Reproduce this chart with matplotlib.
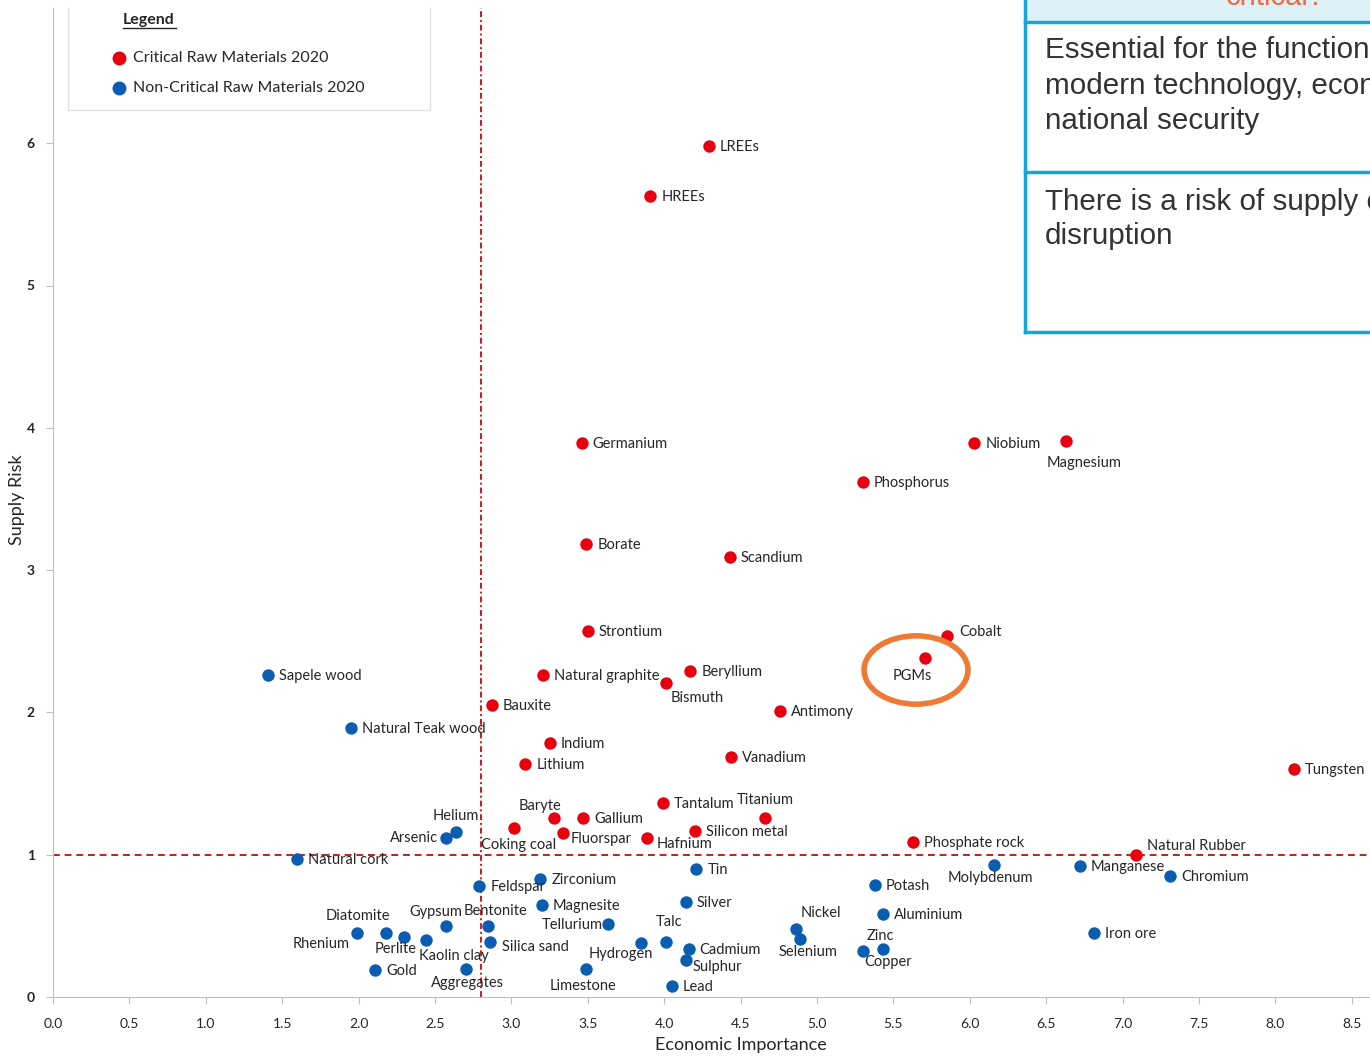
import matplotlib
matplotlib.use('Agg')
import matplotlib.pyplot as plt
from matplotlib.patches import Ellipse, Rectangle
from matplotlib.lines import Line2D

# ---------------- data ----------------
crit_names = ["LREEs", "HREEs", "Germanium", "Niobium", "Magnesium", "Phosphorus",
              "Borate", "Scandium", "Strontium", "Cobalt", "PGMs", "Natural graphite",
              "Beryllium", "Bismuth", "Bauxite", "Antimony", "Indium", "Lithium",
              "Vanadium", "Tungsten", "Tantalum", "Titanium", "Baryte", "Gallium",
              "Coking coal", "Fluorspar", "Silicon metal", "Hafnium", "Phosphate rock",
              "Natural Rubber"]
crit_ei = [4.29, 3.91, 3.46, 6.03, 6.63, 5.30, 3.49, 4.43, 3.50, 5.85, 5.71, 3.21,
           4.17, 4.01, 2.87, 4.76, 3.25, 3.09, 4.44, 8.12, 3.99, 4.66, 3.28, 3.47,
           3.02, 3.34, 4.20, 3.89, 5.63, 7.09]
crit_sr = [5.98, 5.63, 3.89, 3.89, 3.91, 3.62, 3.18, 3.09, 2.57, 2.54, 2.38, 2.26,
           2.29, 2.21, 2.05, 2.01, 1.785, 1.64, 1.69, 1.60, 1.36, 1.26, 1.26, 1.26,
           1.19, 1.15, 1.17, 1.12, 1.09, 1.00]

noncrit_names = ["Sapele wood", "Natural Teak wood", "Helium", "Arsenic", "Natural cork",
                 "Feldspar", "Zirconium", "Tin", "Molybdenum", "Manganese", "Chromium",
                 "Potash", "Magnesite", "Silver", "Aluminium", "Gypsum", "Bentonite",
                 "Tellurium", "Diatomite", "Rhenium", "Perlite", "Kaolin clay",
                 "Silica sand", "Hydrogen", "Talc", "Cadmium", "Sulphur", "Nickel",
                 "Selenium", "Zinc", "Copper", "Iron ore", "Gold", "Aggregates",
                 "Limestone", "Lead"]
noncrit_ei = [1.41, 1.95, 2.64, 2.57, 1.60, 2.79, 3.19, 4.21, 6.16, 6.72, 7.31,
              5.38, 3.20, 4.14, 5.43, 2.57, 2.85, 3.63, 2.18, 1.99, 2.30, 2.44,
              2.86, 3.85, 4.01, 4.16, 4.14, 4.86, 4.89, 5.43, 5.30, 6.81, 2.11,
              2.70, 3.49, 4.05]
noncrit_sr = [2.26, 1.89, 1.16, 1.12, 0.97, 0.78, 0.83, 0.90, 0.93, 0.92, 0.85,
              0.79, 0.65, 0.67, 0.58, 0.50, 0.50, 0.51, 0.45, 0.45, 0.42, 0.40,
              0.39, 0.38, 0.39, 0.34, 0.26, 0.48, 0.41, 0.34, 0.32, 0.45, 0.19,
              0.20, 0.20, 0.08]

ei_threshold = 2.8
sr_threshold = 1.0
x_ticks = [0.0, 0.5, 1.0, 1.5, 2.0, 2.5, 3.0, 3.5, 4.0, 4.5, 5.0, 5.5, 6.0, 6.5, 7.0, 7.5, 8.0, 8.5]
y_ticks = [0, 1, 2, 3, 4, 5, 6]

legend_labels = ["Critical Raw Materials 2020", "Non-Critical Raw Materials 2020"]
box_head = "critical?"
box_row1 = ["Essential for the functioning of", "modern technology, economy and", "national security"]
box_row2 = ["There is a risk of supply chain", "disruption"]

# ---------------- layout of labels (pixel offsets from dot, y down) ----------------
R = 'left'
label_layout = {
    "Magnesium": (18, 22, 'center'), "Cobalt": (12, -4, R), "PGMs": (-13, 18, 'center'),
    "Bismuth": (31, 15, 'center'), "Titanium": (0, -18, 'center'), "Baryte": (-14, -12, 'center'),
    "Coking coal": (4, 17, 'center'), "Fluorspar": (7, 6, R), "Hafnium": (9, 6, R),
    "Natural Rubber": (11, -9, R),
    "Helium": (-1, -16, 'center'), "Arsenic": (-8, 0, 'right'), "Molybdenum": (-4, 13, 'center'),
    "Gypsum": (-10, -14, 'center'), "Bentonite": (7, -15, 'center'), "Tellurium": (-5, 1, 'right'),
    "Diatomite": (-28, -17, 'center'), "Rhenium": (-7, 11, 'right'), "Perlite": (-9, 12, 'center'),
    "Kaolin clay": (28, 16, 'center'), "Silica sand": (12, 5, R), "Hydrogen": (-20, 11, 'center'),
    "Talc": (3, -20, 'center'), "Sulphur": (7, 7, R), "Nickel": (25, -16, 'center'),
    "Selenium": (8, 13, 'center'), "Zinc": (-2, -13, 'center'), "Copper": (25, 11, 'center'),
    "Aggregates": (2, 14, 'center'), "Limestone": (-3, 17, 'center'),
}

W, H = 1370, 1056
plt.rcParams['font.family'] = ['Lato', 'DejaVu Sans']
fig = plt.figure(figsize=(W / 100, H / 100), dpi=100)
fig.patch.set_facecolor('white')

def fx(px):
    return px / W

def fy(py):
    return 1 - py / H

ax = fig.add_axes([fx(53), 59 / H, (W - 53) / W, 989 / H])
ax.set_xlim(0, (W - 53) / 152.8)
ax.set_ylim(0, 989 / 142.3)

RED = '#E8000E'
BLUE = '#0A5DB0'
TXT = '#262626'

ax.axvline(ei_threshold, color='#D01818', lw=1.4, ls=(0, (3, 1.5, 1, 1.5)), zorder=1)
ax.axhline(sr_threshold, color='#D01818', lw=1.4, ls=(0, (3.5, 2.5)), zorder=1)

ax.scatter(crit_ei, crit_sr, s=80, color=RED, zorder=3, linewidths=0)
ax.scatter(noncrit_ei, noncrit_sr, s=80, color=BLUE, zorder=3, linewidths=0)

for names, xs, ys in [(crit_names, crit_ei, crit_sr), (noncrit_names, noncrit_ei, noncrit_sr)]:
    for n, x, y in zip(names, xs, ys):
        dx, dy, ha = label_layout.get(n, (11, 1, R))
        ax.annotate(n, (x, y), xytext=(dx, -dy), textcoords='offset pixels',
                    ha=ha, va='center', fontsize=10.5, color=TXT, zorder=4,
                    annotation_clip=False)

# highlight ellipse around PGMs
pgm_i = crit_names.index("PGMs")
ax.add_patch(Ellipse((crit_ei[pgm_i] - 0.062, crit_sr[pgm_i] - 0.082), 0.68, 0.48,
                     fill=False, edgecolor='#EE7A35', lw=4, zorder=5))

# axes styling
for s in ['top', 'right']:
    ax.spines[s].set_visible(False)
ax.spines['left'].set_color('#BFBFBF')
ax.spines['bottom'].set_color('#BFBFBF')
ax.set_xticks(x_ticks)
ax.set_xticklabels([f"{t:.1f}" for t in x_ticks], fontsize=10, color=TXT)
ax.set_yticks(y_ticks)
ax.set_yticklabels([str(t) for t in y_ticks], fontsize=10, color=TXT, fontweight='bold')
ax.tick_params(axis='both', colors='#BFBFBF', labelcolor=TXT, length=5)
ax.tick_params(axis='x', pad=10)
ax.tick_params(axis='y', pad=8)
fig.text(fx(741), fy(1045), "Economic Importance", ha='center', va='center', fontsize=13, color=TXT)
fig.text(fx(17), fy(500), "Supply Risk", ha='center', va='center', rotation=90, fontsize=13, color=TXT)

# legend box
for (x0, y0, x1, y1) in [(68, 8, 68, 110), (430, 8, 430, 110), (68, 110, 430, 110)]:
    fig.add_artist(Line2D([fx(x0), fx(x1)], [fy(y0), fy(y1)], color='#E3E3E3', lw=1))
fig.text(fx(149), fy(20), "Legend", ha='center', va='center', fontsize=11.5, fontweight='bold', color=TXT)
fig.add_artist(Line2D([fx(123), fx(176)], [fy(28), fy(28)], color=TXT, lw=1))
for i, (lab, col) in enumerate(zip(legend_labels, [RED, BLUE])):
    yy = 58 + 30 * i
    fig.add_artist(Line2D([fx(119)], [fy(yy)], marker='o', markersize=9, color=col, lw=0))
    fig.text(fx(133), fy(yy), lab, ha='left', va='center', fontsize=11.5, color=TXT)

# info table at top right
CY = '#13A6DC'
fig.add_artist(Rectangle((fx(1025), fy(22)), fx(400), 30 / H, facecolor='#DCF0F8', edgecolor='none', zorder=6))
fig.add_artist(Rectangle((fx(1025), fy(332)), fx(400), (332 - 22) / H, facecolor='white', edgecolor='none', zorder=6))
for (x0, y0, x1, y1) in [(1025, -5, 1025, 332), (1025, 332, 1400, 332), (1025, 22, 1400, 22), (1025, 172, 1400, 172)]:
    fig.add_artist(Line2D([fx(x0), fx(x1)], [fy(y0), fy(y1)], color=CY, lw=2.5, zorder=7))
fig.text(fx(1275), fy(5), box_head, ha='center', va='baseline', fontsize=21, color='#F4673A',
         family='Liberation Sans', zorder=8)
for i, line in enumerate(box_row1):
    fig.text(fx(1045), fy(50 + 35.5 * i), line, ha='left', va='center', fontsize=21.3,
             color='#333333', family='Liberation Sans', zorder=8)
for i, line in enumerate(box_row2):
    fig.text(fx(1045), fy(202 + 34.5 * i), line, ha='left', va='center', fontsize=21.3,
             color='#333333', family='Liberation Sans', zorder=8)

fig.savefig('out.png', dpi=100)
